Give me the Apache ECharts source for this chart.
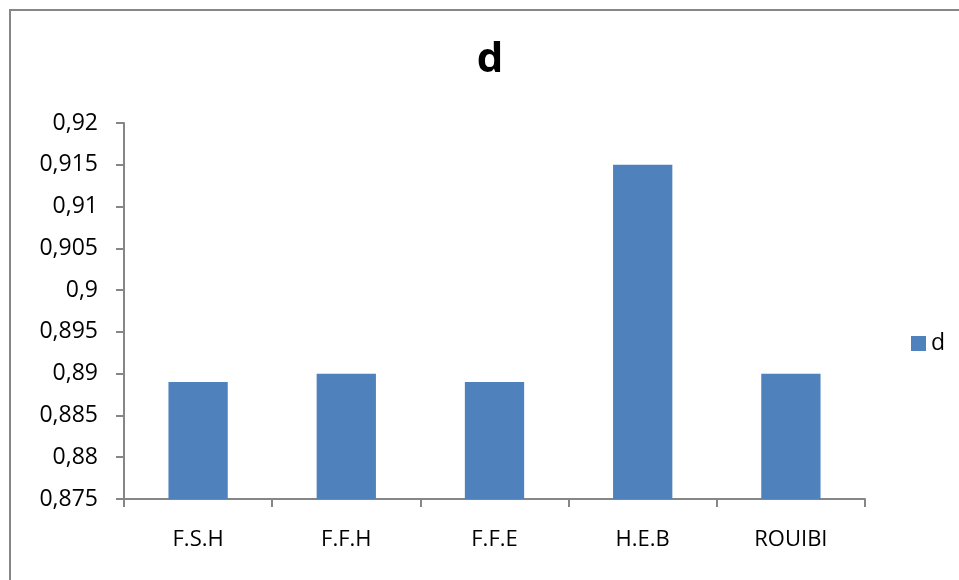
<!DOCTYPE html>
<html>
<head>
<meta charset="utf-8">
<script src="https://cdn.jsdelivr.net/npm/echarts@6/dist/echarts.min.js"></script>
<style>html,body{margin:0;padding:0;background:#fff}#c{width:959px;height:580px}</style>
</head>
<body>
<div id="c"></div>
<script>
var categories = ['F.S.H', 'F.F.H', 'F.F.E', 'H.E.B', 'ROUIBI'];
var values = [0.889, 0.890, 0.889, 0.915, 0.890];
var seriesName = 'd';
var titleText = 'd';

var chart = echarts.init(document.getElementById('c'));
var font = 'Open Sans';
chart.setOption({
  animation: false,
  backgroundColor: '#fff',
  title: {
    text: titleText,
    left: 485, top: 34, textAlign: 'center',
    textStyle: {fontFamily: font, fontWeight: 'bold', fontSize: 42, color: '#000'}
  },
  legend: {
    data: [seriesName],
    left: 906, top: 327,
    icon: 'rect', itemWidth: 15, itemHeight: 15, itemGap: 4,
    textStyle: {fontFamily: font, fontSize: 23, color: '#000'}
  },
  grid: {left: 124, right: 94, top: 123, bottom: 81, containLabel: false},
  xAxis: {
    type: 'category', data: categories,
    axisLine: {lineStyle: {color: '#868686', width: 2}},
    axisTick: {show: true, alignWithLabel: false, length: 8, lineStyle: {color: '#868686', width: 2}},
    axisLabel: {fontFamily: font, fontSize: 22, color: '#000', margin: 30}
  },
  yAxis: {
    type: 'value', min: 0.875, max: 0.92, interval: 0.005,
    axisLine: {show: true, lineStyle: {color: '#868686', width: 2}},
    axisTick: {show: true, length: 8, lineStyle: {color: '#868686', width: 2}},
    splitLine: {show: false},
    axisLabel: {
      fontFamily: font, fontSize: 23, color: '#000', margin: 26,
      formatter: function (v) { return String(Math.round(v * 1000) / 1000).replace('.', ','); }
    }
  },
  series: [{
    name: seriesName, type: 'bar', data: values,
    barWidth: '40%',
    itemStyle: {color: '#4F81BD'}
  }],
  graphic: [{
    type: 'rect', shape: {x: 10, y: 10, width: 980, height: 600},
    style: {fill: 'none', stroke: '#868686', lineWidth: 2}, silent: true
  }]
});
</script>
</body>
</html>
